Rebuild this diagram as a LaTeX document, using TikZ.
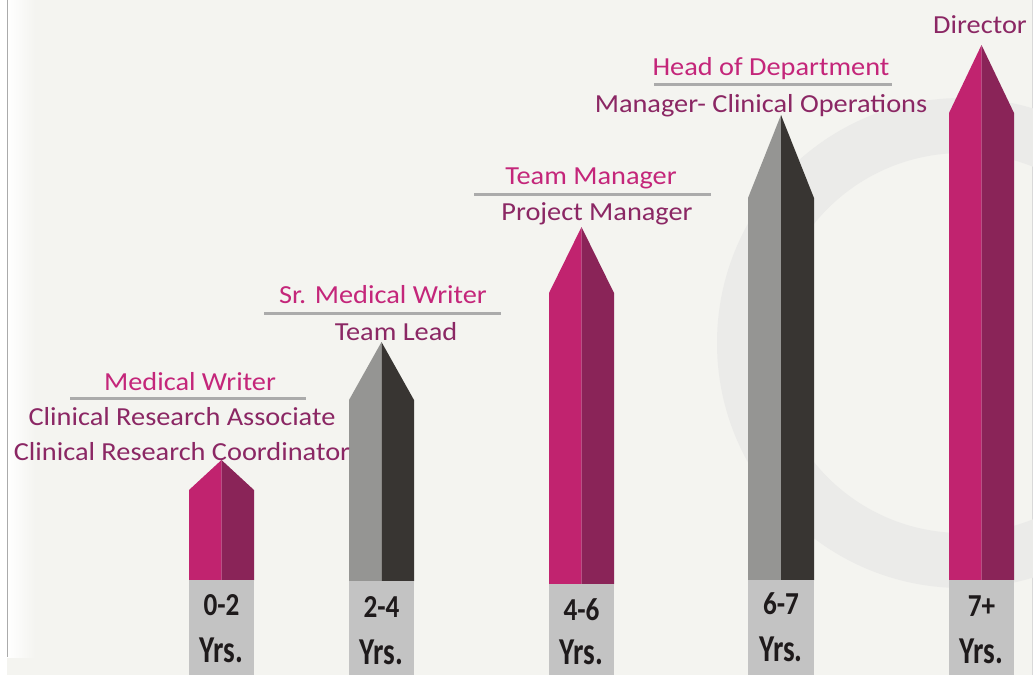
\documentclass[tikz,border=0pt]{standalone}
\usepackage{fontspec}
\setmainfont{Carlito}
\definecolor{bgc}{HTML}{F4F4F0}
\definecolor{ringc}{HTML}{EBEBE9}
\definecolor{pinkL}{HTML}{C1236F}
\definecolor{pinkR}{HTML}{8A2458}
\definecolor{grayL}{HTML}{959593}
\definecolor{grayR}{HTML}{383532}
\definecolor{boxc}{HTML}{C3C3C3}
\definecolor{titlec}{HTML}{C4267A}
\definecolor{rolec}{HTML}{8B2764}
\definecolor{sepc}{HTML}{ABABAB}
\definecolor{yrc}{HTML}{1E1A1B}
\tikzset{
  title/.style={font=\fontsize{26}{28}\selectfont, text=titlec, anchor=base, inner sep=0pt},
  role/.style={font=\fontsize{26}{28}\selectfont, text=rolec, anchor=base, inner sep=0pt},
  sepline/.style={draw=sepc, line width=3pt},
  yrnum/.style={font=\bfseries\fontsize{32}{34}\selectfont, text=yrc, anchor=base, inner sep=0pt},
  yrtxt/.style={font=\bfseries\fontsize{38}{40}\selectfont, text=yrc, anchor=base, inner sep=0pt},
}
\newcommand{\wide}[1]{\scalebox{1.09}[1]{#1}}
\newcommand{\condn}[1]{\scalebox{0.85}[1]{#1}}
\newcommand{\condy}[1]{\scalebox{0.77}[1]{#1}}
\begin{document}
\begin{tikzpicture}[x=1pt,y=-1pt]
\useasboundingbox (0,0) rectangle (1033,675);
\clip (0,0) rectangle (1033,675);
\fill[bgc] (0,0) rectangle (1033,675);
\fill[white] (0,0) rectangle (7,675);
\shade[left color=white, right color=bgc] (7,0) rectangle (35,657);
\draw[sepc, line width=1pt] (7,0) -- (7,657);
\draw[black!15, line width=1pt] (1032.5,0) -- (1032.5,675);
% background ring
\fill[ringc, even odd rule] (962,343) circle[radius=245pt] (962,343) circle[radius=190pt];
% pencils
\foreach \n/\L/\R/\A/\S/\B/\cl/\cr/\num/\ny/\yy in {
  1/189/254/460/490/580/pinkL/pinkR/0-2/615/662,
  2/349/414/342/400/581/grayL/grayR/2-4/617/664,
  3/549/614/227/293/584/pinkL/pinkR/4-6/620/664,
  4/748/814/115/198/580/grayL/grayR/6-7/614/661,
  5/949/1014/45/113/580/pinkL/pinkR/7+/616/663}{
  \pgfmathsetmacro{\M}{(\L+\R)/2}
  \fill[\cl] (\L,\B) -- (\L,\S) -- (\M,\A) -- (\M,\B) -- cycle;
  \fill[\cr] (\M,\B) -- (\M,\A) -- (\R,\S) -- (\R,\B) -- cycle;
  \fill[boxc] (\L,\B) rectangle (\R,675);
  \node[yrnum] (num\n) at (\M,\ny) {\condn{\num}};
  \node[yrtxt] (yrs\n) at (\M,\yy) {\condy{Yrs.}};
}
% labels
\node[title] (t1) at (190,390) {\wide{Medical Writer}};
\draw[sepline] (70,398) coordinate (s1a) -- (306,398) coordinate (s1b);
\node[role] (r1a) at (182,425) {\wide{Clinical Research Associate}};
\node[role] (r1b) at (182,460) {\wide{Clinical Research Coordinator}};

\node[title] (t2) at (383,303) {\wide{Sr. Medical Writer}};
\draw[sepline] (264,313) coordinate (s2a) -- (501,313) coordinate (s2b);
\node[role] (r2) at (396,340) {\wide{Team Lead}};

\node[title] (t3) at (591,184) {\wide{Team Manager}};
\draw[sepline] (474,194) coordinate (s3a) -- (711,194) coordinate (s3b);
\node[role] (r3) at (597,220) {\wide{Project Manager}};

\node[title] (t4) at (771,75) {\wide{Head of Department}};
\draw[sepline] (654,84) coordinate (s4a) -- (892,84) coordinate (s4b);
\node[role] (r4) at (761,112) {\wide{Manager- Clinical Operations}};

\node[role] (t5) at (980,33) {\wide{Director}};
\end{tikzpicture}
\end{document}
